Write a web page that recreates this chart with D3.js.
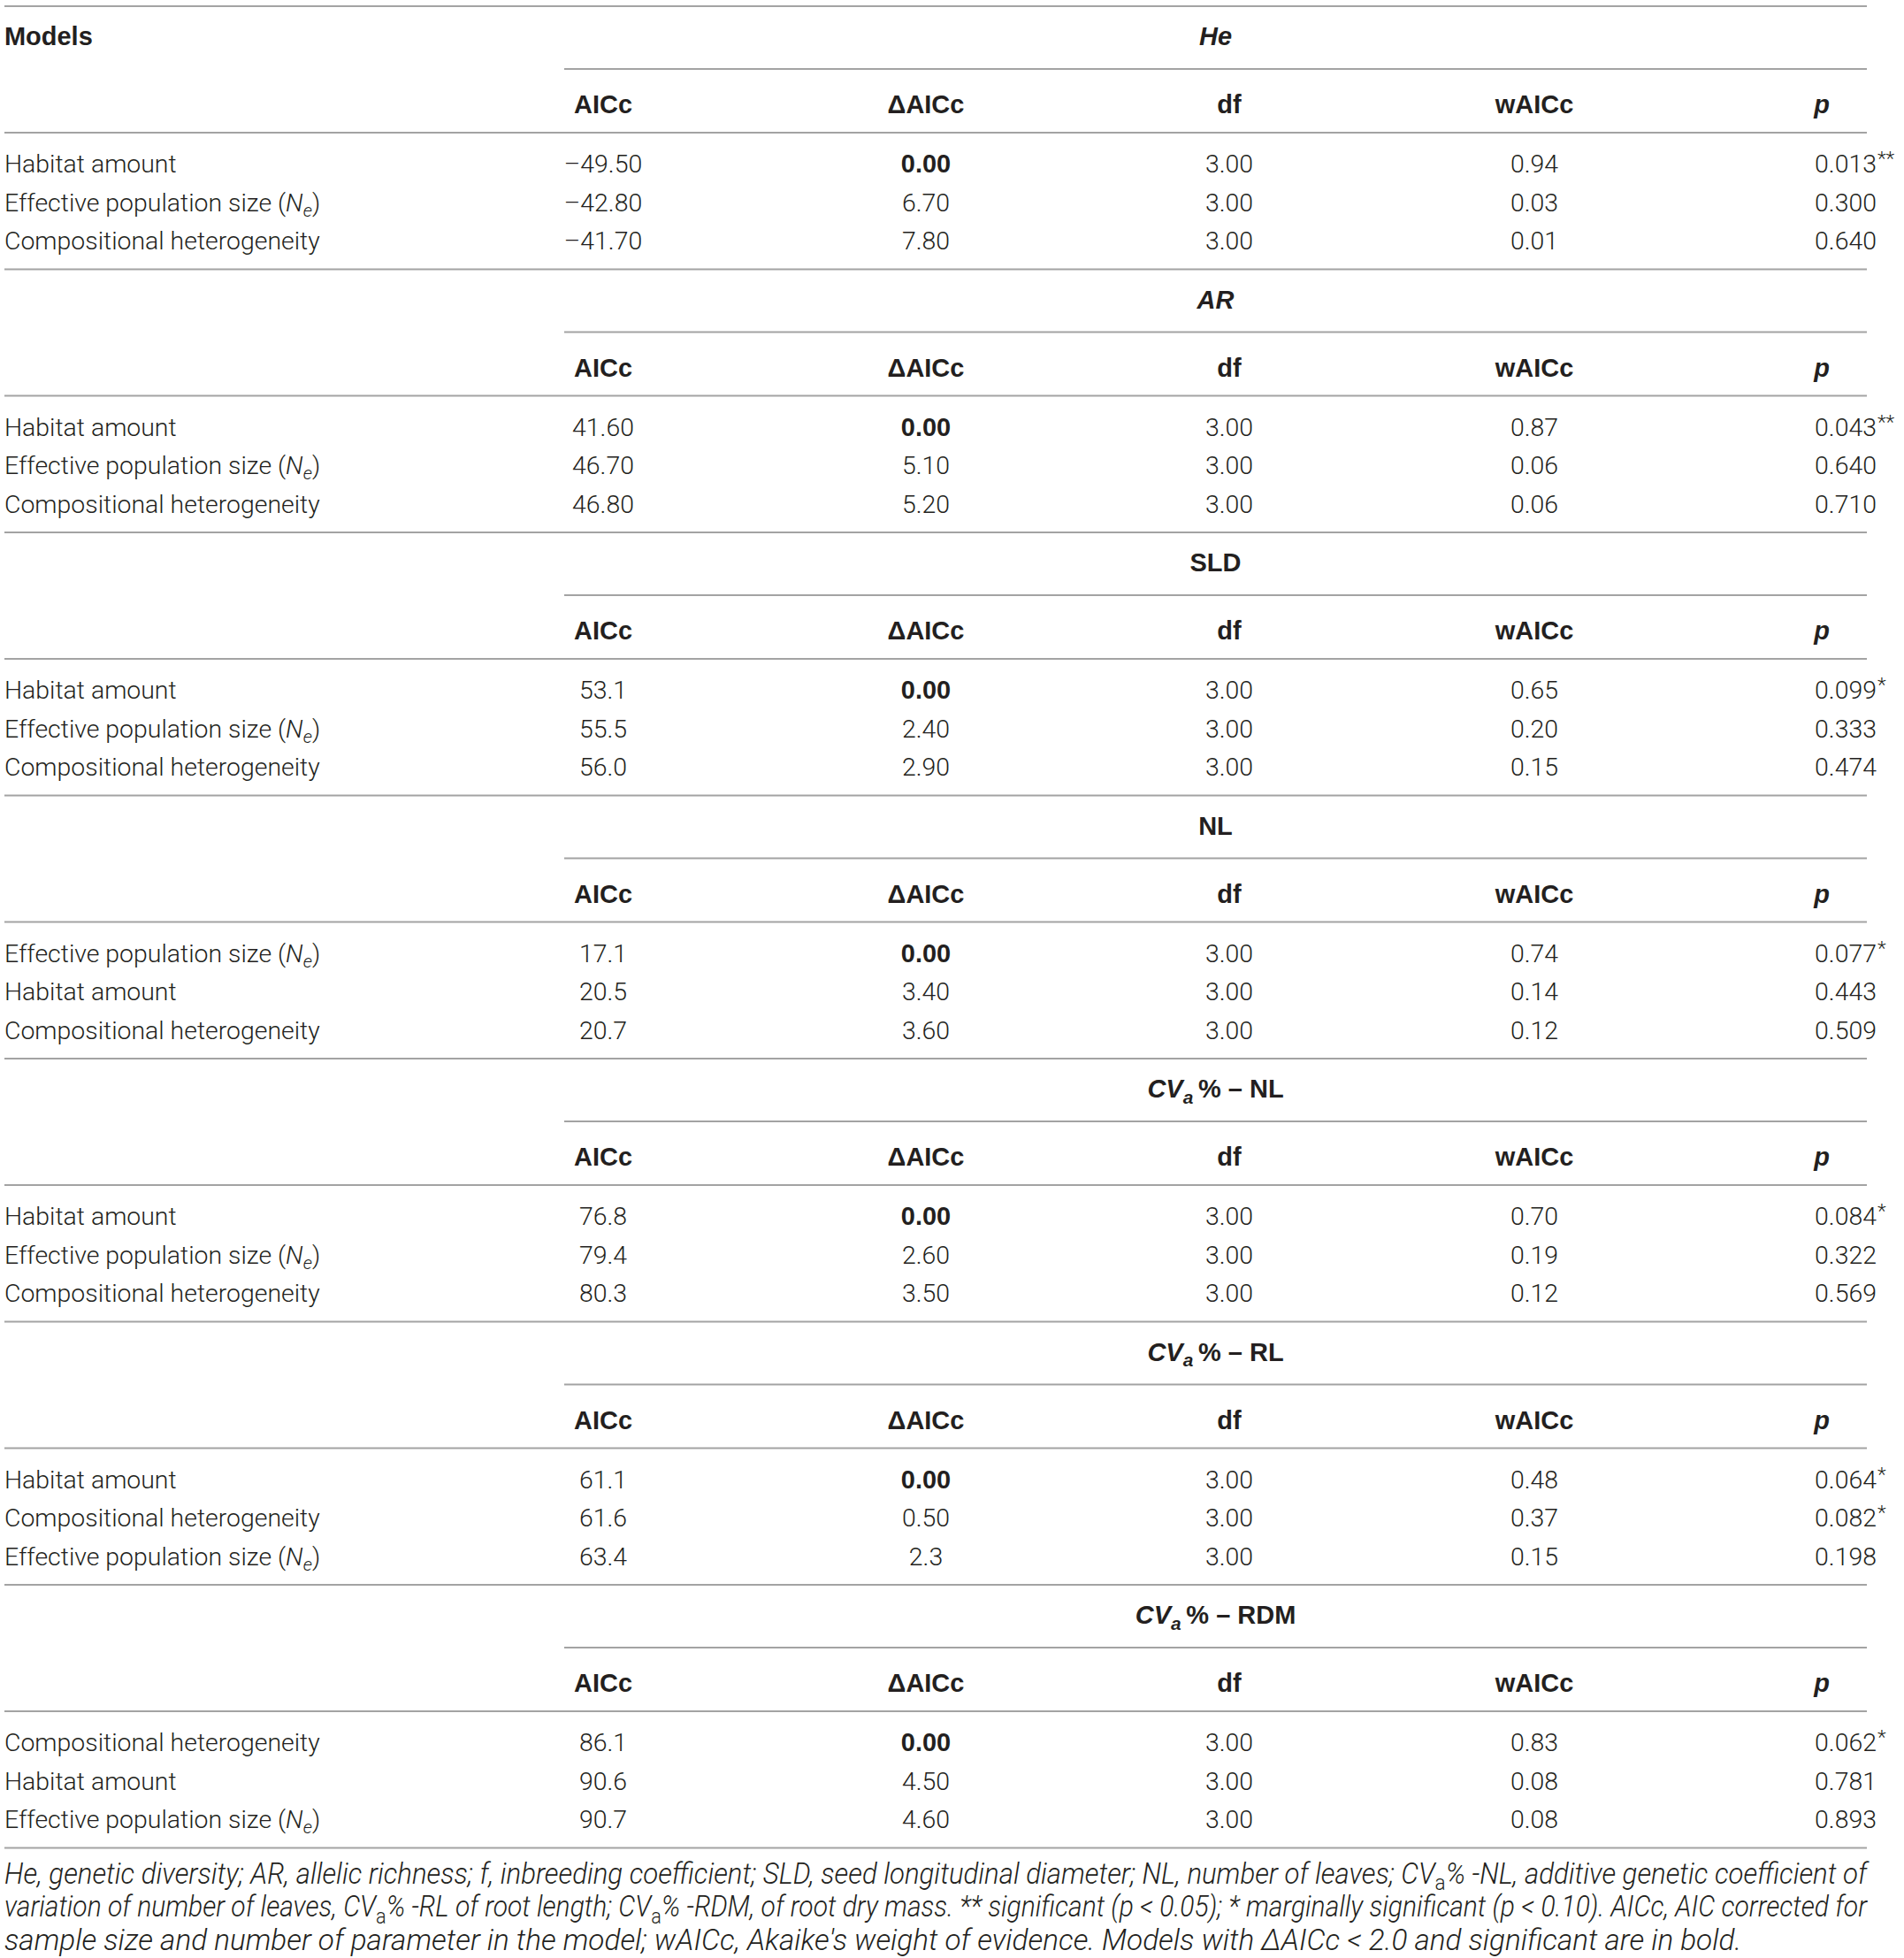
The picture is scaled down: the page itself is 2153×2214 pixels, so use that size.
<!DOCTYPE html>
<html>
<head>
<meta charset="utf-8">
<script src="https://cdn.jsdelivr.net/npm/d3@7"></script>
<style>
  body { margin: 0; background: #fff; }
</style>
</head>
<body>
<div id="chart"></div>
<script>
// ---- table content ----
var traits = ["He", "AR", "SLD", "NL", "CVa% – NL", "CVa% – RL", "CVa% – RDM"];
var columns = ["AICc", "ΔAICc", "df", "wAICc", "p"];

var models = [
  ["Habitat amount", "Effective population size (Ne)", "Compositional heterogeneity"],
  ["Habitat amount", "Effective population size (Ne)", "Compositional heterogeneity"],
  ["Habitat amount", "Effective population size (Ne)", "Compositional heterogeneity"],
  ["Effective population size (Ne)", "Habitat amount", "Compositional heterogeneity"],
  ["Habitat amount", "Effective population size (Ne)", "Compositional heterogeneity"],
  ["Habitat amount", "Compositional heterogeneity", "Effective population size (Ne)"],
  ["Compositional heterogeneity", "Habitat amount", "Effective population size (Ne)"]
];
var aicc = [
  ["–49.50", "–42.80", "–41.70"],
  ["41.60", "46.70", "46.80"],
  ["53.1", "55.5", "56.0"],
  ["17.1", "20.5", "20.7"],
  ["76.8", "79.4", "80.3"],
  ["61.1", "61.6", "63.4"],
  ["86.1", "90.6", "90.7"]
];
var deltaAicc = [
  ["0.00", "6.70", "7.80"],
  ["0.00", "5.10", "5.20"],
  ["0.00", "2.40", "2.90"],
  ["0.00", "3.40", "3.60"],
  ["0.00", "2.60", "3.50"],
  ["0.00", "0.50", "2.3"],
  ["0.00", "4.50", "4.60"]
];
var dfs = [
  ["3.00", "3.00", "3.00"],
  ["3.00", "3.00", "3.00"],
  ["3.00", "3.00", "3.00"],
  ["3.00", "3.00", "3.00"],
  ["3.00", "3.00", "3.00"],
  ["3.00", "3.00", "3.00"],
  ["3.00", "3.00", "3.00"]
];
var wAicc = [
  ["0.94", "0.03", "0.01"],
  ["0.87", "0.06", "0.06"],
  ["0.65", "0.20", "0.15"],
  ["0.74", "0.14", "0.12"],
  ["0.70", "0.19", "0.12"],
  ["0.48", "0.37", "0.15"],
  ["0.83", "0.08", "0.08"]
];
var pValues = [
  ["0.013", "0.300", "0.640"],
  ["0.043", "0.640", "0.710"],
  ["0.099", "0.333", "0.474"],
  ["0.077", "0.443", "0.509"],
  ["0.084", "0.322", "0.569"],
  ["0.064", "0.082", "0.198"],
  ["0.062", "0.781", "0.893"]
];
var pStars = [
  ["**", "", ""],
  ["**", "", ""],
  ["*", "", ""],
  ["*", "", ""],
  ["*", "", ""],
  ["*", "*", ""],
  ["*", "", ""]
];
var footnote = [
  "He, genetic diversity; AR, allelic richness; f, inbreeding coefficient; SLD, seed longitudinal diameter; NL, number of leaves; CVa% -NL, additive genetic coefficient of",
  "variation of number of leaves, CVa% -RL of root length; CVa% -RDM, of root dry mass. ** significant (p < 0.05); * marginally significant (p < 0.10). AICc, AIC corrected for",
  "sample size and number of parameter in the model; wAICc, Akaike's weight of evidence. Models with ΔAICc < 2.0 and significant are in bold."
];

// ---- layout ----
var width = 2153, height = 2214;
var left = 5, right = 2111, subLeft = 638;
var ink = "#231f20", rule = "#a3a3a3";
var bodyFont = "Roboto, 'Liberation Sans', Arial, sans-serif";
var headFont = "'Liberation Sans', Arial, sans-serif";

var svg = d3.select("#chart").append("svg")
  .attr("width", width)
  .attr("height", height)
  .attr("viewBox", "0 0 " + width + " " + height);

function measure(str, font, size, weight, style) {
  var t = svg.append("text")
    .style("font-family", font).style("font-size", size + "px")
    .style("font-weight", weight).style("font-style", style || "normal")
    .text(str);
  var w = t.node().getComputedTextLength();
  t.remove();
  return w;
}

var bodySize = 28 * 357 / measure("Compositional heterogeneity", bodyFont, 28, 300);
var headSize = 28 * 66 / measure("AICc", headFont, 28, 700);
var footSize = 26 * 1965 / measure(footnote[2], bodyFont, 26, 300, "italic");

// columns and rows through scales
var x = d3.scaleOrdinal().domain(columns).range([682, 1047, 1390, 1735, 2087]);
var headShift = {p: -27};
var sectionY = d3.scaleLinear().domain([0, traits.length]).range([7, 7 + 297.5 * traits.length]);
var rowY = d3.scaleLinear().domain([0, 1]).range([178, 221.5]);

// split a string into styled pieces
function titleParts(s) {
  if (s.indexOf("CVa") === 0) {
    return [{t: "CV", i: true}, {t: "a", i: true, sub: true}, {t: "\u2009" + s.slice(3)}];
  }
  if (s === "He" || s === "AR") return [{t: s, i: true}];
  return [{t: s}];
}
function labelParts(s) {
  var k = s.indexOf("(Ne)");
  if (k < 0) return [{t: s}];
  return [{t: s.slice(0, k + 1)}, {t: "N", i: true}, {t: "e", i: true, sub: true}, {t: ")"}];
}

function writeParts(textSel, parts, size) {
  var shift = 0;
  parts.forEach(function (p) {
    var ts = textSel.append("tspan").text(p.t);
    if (p.i) ts.style("font-style", "italic");
    var target = p.sub ? size * 0.22 : 0;
    if (p.sub) ts.style("font-size", (size * 0.72) + "px");
    if (target !== shift) { ts.attr("dy", target - shift); shift = target; }
  });
}

var table = svg.append("g");

// rules
var ruleYs = d3.range(traits.length + 1).map(function (s) { return sectionY(s); });
table.selectAll("line.full").data(ruleYs).enter().append("line")
  .attr("x1", left).attr("x2", right)
  .attr("y1", function (d) { return d; }).attr("y2", function (d) { return d; })
  .attr("stroke", rule).attr("stroke-width", 2);
table.selectAll("line.head").data(traits).enter().append("line")
  .attr("x1", left).attr("x2", right)
  .attr("y1", function (d, i) { return sectionY(i) + 143; })
  .attr("y2", function (d, i) { return sectionY(i) + 143; })
  .attr("stroke", rule).attr("stroke-width", 2);
table.selectAll("line.sub").data(traits).enter().append("line")
  .attr("x1", subLeft).attr("x2", right)
  .attr("y1", function (d, i) { return sectionY(i) + 71; })
  .attr("y2", function (d, i) { return sectionY(i) + 71; })
  .attr("stroke", rule).attr("stroke-width", 2);

function baseText(g, size, weight, anchor) {
  return g.append("text")
    .attr("text-anchor", anchor)
    .style("font-size", size + "px")
    .style("font-weight", weight)
    .style("fill", ink);
}

// "Models" heading
baseText(table, headSize, 700, "start").style("font-family", headFont)
  .attr("x", left).attr("y", sectionY(0) + 34 + headSize * 0.36).text("Models");

traits.forEach(function (trait, s) {
  var top = sectionY(s);
  var g = table.append("g");

  var title = baseText(g, headSize, 700, "middle").style("font-family", headFont)
    .attr("x", (subLeft + right) / 2).attr("y", top + 34 + headSize * 0.36);
  writeParts(title, titleParts(trait), headSize);

  columns.forEach(function (c) {
    var h = baseText(g, headSize, 700, "middle").style("font-family", headFont)
      .attr("x", x(c) + (headShift[c] || 0)).attr("y", top + 111 + headSize * 0.36).text(c);
    if (c === "p") h.style("font-style", "italic");
  });

  models[s].forEach(function (m, r) {
    var y = top + rowY(r) + bodySize * 0.36;
    var lab = baseText(g, bodySize, 300, "start").style("font-family", bodyFont)
      .attr("x", left).attr("y", y);
    writeParts(lab, labelParts(m), bodySize);

    var cells = [aicc[s][r], deltaAicc[s][r], dfs[s][r], wAicc[s][r], pValues[s][r]];
    cells.forEach(function (v, ci) {
      var c = columns[ci];
      var isBold = c === "ΔAICc" && +v === 0;
      var t = baseText(g, isBold ? headSize : bodySize, isBold ? 700 : 300, "middle")
        .style("font-family", isBold ? headFont : bodyFont)
        .attr("x", x(c)).attr("y", y).text(v);
      if (c === "p" && pStars[s][r]) {
        var w = t.node().getComputedTextLength();
        baseText(g, bodySize * 0.8, 300, "start").style("font-family", bodyFont)
          .attr("x", x(c) + w / 2 + 1).attr("y", y - bodySize * 0.28)
          .text(pStars[s][r]);
      }
    });
  });
});

// footnote: the two full lines are squeezed to the table width, the last is left as set
var foot = svg.append("g");
var footY = d3.scaleLinear().domain([0, 1]).range([2118, 2155.5]);

function footWordParts(w) {
  var k = w.indexOf("CVa");
  if (k < 0) return [{t: w, i: true}];
  return [{t: w.slice(0, k) + "CV", i: true}, {t: "a", sub: true}, {t: w.slice(k + 3), i: true}];
}

var space = measure("a b", bodyFont, footSize, 300, "italic") - measure("ab", bodyFont, footSize, 300, "italic");

footnote.forEach(function (line, li) {
  var words = line.split(" ");
  var y = footY(li) + footSize * 0.36;
  var lg = foot.append("g");
  var nodes = words.map(function (w) {
    var t = baseText(lg, footSize, 300, "start").style("font-family", bodyFont)
      .attr("x", 0).attr("y", y);
    writeParts(t, footWordParts(w), footSize);
    return t;
  });
  var widths = nodes.map(function (n) { return n.node().getComputedTextLength(); });
  var natural = d3.sum(widths) + space * (words.length - 1);
  var avail = right - left;
  var last = li === footnote.length - 1;
  var k = (!last && natural > avail) ? avail / natural : 1;
  var gap = (!last && natural < avail) ? (avail - d3.sum(widths)) / (words.length - 1) : space;
  var cx = 0;
  nodes.forEach(function (n, i) {
    n.attr("x", cx);
    cx += widths[i] + gap;
  });
  lg.attr("transform", "translate(" + left + ",0) scale(" + k + ",1)");
});
</script>
</body>
</html>
